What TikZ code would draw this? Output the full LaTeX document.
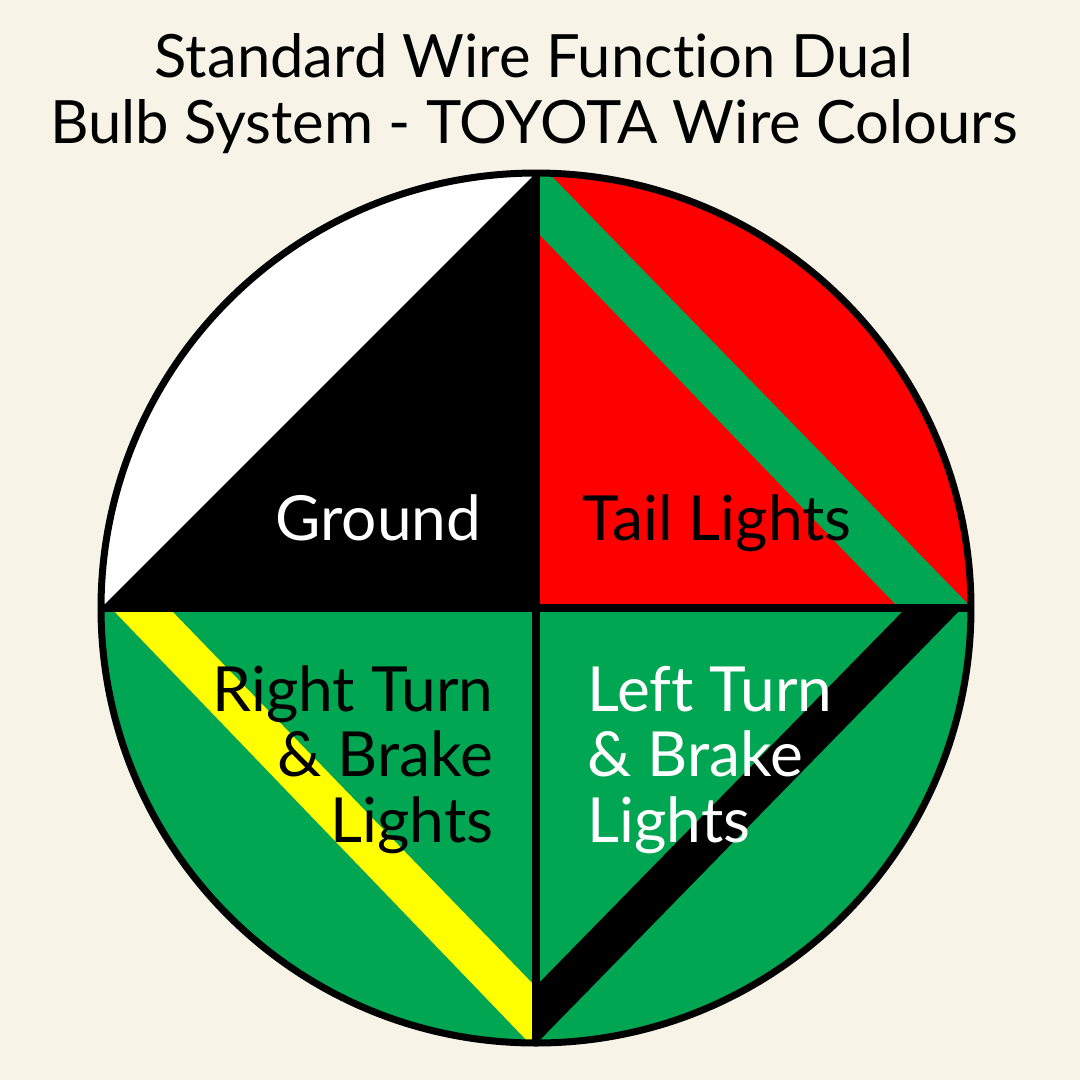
\documentclass[tikz,border=0pt]{standalone}
\usepackage{fontspec}
\setmainfont{Lato}[Ligatures=NoCommon]
\definecolor{paper}{RGB}{247,244,231}
\definecolor{wiregreen}{RGB}{0,166,81}
\definecolor{wirered}{RGB}{255,0,0}
\definecolor{wireyellow}{RGB}{255,255,0}
\begin{document}
\begin{tikzpicture}[x=0.1mm, y=-0.1mm,
    wiretext/.style={font=\fontsize{17}{18.5}\selectfont, inner sep=0pt},
    pintext/.style={font=\fontsize{17.7}{18.5}\selectfont, inner sep=0pt},
    divider/.style={line width=0.8mm, black}]
    % Page
    \fill[paper] (0,0) rectangle (1080,1080);
    \useasboundingbox (0,0) rectangle (1080,1080);

    % Title (base = last line)
    \node[wiretext, align=center, anchor=base] (title) at (534,143)
        {Standard Wire Function Dual\\Bulb System - TOYOTA Wire Colours};

    % Plug face
    \coordinate (c) at (536,608);
    \begin{scope}
        \clip (c) circle (435);
        % Ground: white
        \fill[white] (c) rectangle (90,160);
        \fill[black] (c) -- (536,173) -- (101,608) -- cycle;
        % Tail lights: green / red
        \fill[wirered] (c) rectangle (980,160);
        \fill[wiregreen] (536,160) -- (536,231) -- (899,608) -- (972,608) -- cycle;
        % Turn lights: green
        \fill[wiregreen] (90,608) rectangle (980,1050);
        % Right turn: yellow stripe
        \fill[wireyellow] (111,608) -- (169,608) -- (536,987) -- (536,1050) -- cycle;
        % Left turn: black stripe
        \fill[black] (906,608) -- (962,608) -- (536,1044) -- (536,986) -- cycle;
    \end{scope}

    % Dividers
    \draw[divider] (536,170) -- (536,1046);
    \draw[divider] (98,608) -- (974,608);
    \draw[line width=0.7mm] (c) circle (435);

    % Labels
    \node[pintext, white, anchor=base east] (ground) at (482,540) {Ground};
    \node[pintext, anchor=base west] (tail) at (582,540) {Tail Lights};
    \node[pintext, align=right, anchor=base east] (rturn) at (494,842)
        {Right Turn\\\& Brake\\Lights};
    \node[pintext, white, align=left, anchor=base west] (lturn) at (587,842)
        {Left Turn\\\& Brake\\Lights};
\end{tikzpicture}
\end{document}
